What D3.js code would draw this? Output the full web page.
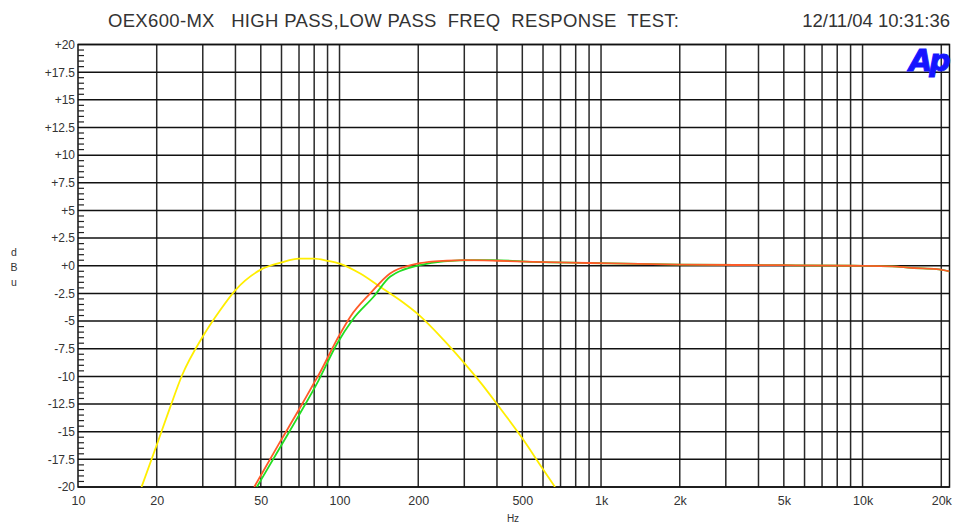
<!DOCTYPE html>
<html>
<head>
<meta charset="utf-8">
<script src="https://cdn.jsdelivr.net/npm/d3@7"></script>
<style>
  html, body { margin: 0; padding: 0; background: #fff; }
  svg { display: block; }
  text { font-family: "Liberation Sans", Arial, sans-serif; fill: #333; }
</style>
</head>
<body>
<svg id="chart" width="953" height="524"></svg>
<script>
// Frequency response sweep (Hz vs dBu)
const titleText = "OEX600-MX   HIGH PASS,LOW PASS  FREQ  RESPONSE  TEST:";
const stampText = "12/11/04 10:31:36";

const freqDomain = [10, 21500];
const dbDomain = [-20, 20];

const yTicks = [20, 17.5, 15, 12.5, 10, 7.5, 5, 2.5, 0, -2.5, -5, -7.5, -10, -12.5, -15, -17.5, -20];
const yTickLabels = ["+20", "+17.5", "+15", "+12.5", "+10", "+7.5", "+5", "+2.5", "+0",
  "-2.5", "-5", "-7.5", "-10", "-12.5", "-15", "-17.5", "-20"];
const xTicks = [10, 20, 50, 100, 200, 500, 1000, 2000, 5000, 10000, 20000];
const xTickLabels = ["10", "20", "50", "100", "200", "500", "1k", "2k", "5k", "10k", "20k"];
const xGrid = [20, 30, 40, 50, 60, 70, 80, 90, 100, 200, 300, 400, 500, 600, 700, 800, 900,
  1000, 2000, 3000, 4000, 5000, 6000, 7000, 8000, 9000, 10000, 20000];

// Low-pass / band response (yellow)
const lowFreq = [17.5, 20, 22.5, 25, 30, 35, 40, 50, 60, 70, 80, 90, 100, 120, 143, 170, 200, 250, 300, 350, 400, 500, 600, 667];
const lowDb =   [-20, -16.2, -12.8, -9.9, -6.4, -4.0, -2.2, -0.35, 0.3, 0.65, 0.65, 0.45, 0.2, -0.7, -1.9, -3.1, -4.4, -6.7, -8.8, -10.7, -12.5, -15.6, -18.4, -20];

// High-pass channel A (orange)
const hpaFreq = [47.2, 59.3, 70, 79, 84, 97.6, 110, 131, 156, 191, 220, 257, 300, 400, 550, 900, 2000, 5000, 9200, 13000, 15400, 19200, 21500];
const hpaDb =   [-20, -15.9, -13.0, -10.8, -9.7, -6.7, -4.6, -2.5, -0.7, 0.1, 0.35, 0.45, 0.5, 0.45, 0.35, 0.25, 0.1, 0.05, 0.0, -0.05, -0.2, -0.3, -0.5];

// High-pass channel B (green)
const hpbFreq = [48.3, 60, 70, 83, 97.6, 112, 135, 156, 203, 250, 330, 386, 550, 900, 2000, 5000, 9200, 13000, 15400, 19200, 21500];
const hpbDb =   [-20, -16.2, -13.5, -10.4, -7.1, -4.9, -2.8, -1.0, 0.05, 0.4, 0.5, 0.5, 0.35, 0.25, 0.1, 0.05, 0.0, -0.05, -0.2, -0.3, -0.5];

const svg = d3.select("#chart");
const plot = { left: 78, right: 949.5, top: 44.5, bottom: 487 };

const x = d3.scaleLog().domain(freqDomain).range([plot.left, plot.right]);
const y = d3.scaleLinear().domain(dbDomain).range([plot.bottom, plot.top]);

// Title line
svg.append("text")
  .attr("x", 108).attr("y", 27)
  .attr("font-size", 18.5)
  .attr("textLength", 571).attr("lengthAdjust", "spacing")
  .style("white-space", "pre")
  .attr("xml:space", "preserve")
  .text(titleText);
svg.append("text")
  .attr("x", 950).attr("y", 27)
  .attr("text-anchor", "end")
  .attr("font-size", 18.5)
  .text(stampText);

// Grid
const grid = svg.append("g");
grid.selectAll("line.v").data(xGrid).join("line")
  .attr("x1", d => x(d)).attr("x2", d => x(d))
  .attr("y1", plot.top).attr("y2", plot.bottom)
  .attr("stroke", "#2a2a2a").attr("stroke-width", 1.5);
grid.selectAll("line.h").data(yTicks).join("line")
  .attr("x1", plot.left).attr("x2", plot.right)
  .attr("y1", d => y(d)).attr("y2", d => y(d))
  .attr("stroke", "#111").attr("stroke-width", 1.5);
grid.append("rect")
  .attr("x", plot.left).attr("y", plot.top)
  .attr("width", plot.right - plot.left).attr("height", plot.bottom - plot.top)
  .attr("fill", "none").attr("stroke", "#111").attr("stroke-width", 1.5);

// Left axis: minor ticks every 0.5 dB
const minor = d3.range(-20, 20.01, 0.5).filter(v => Math.abs(v / 2.5 - Math.round(v / 2.5)) > 1e-6);
svg.append("g").selectAll("line").data(minor).join("line")
  .attr("x1", plot.left).attr("x2", plot.left + 6)
  .attr("y1", d => y(d)).attr("y2", d => y(d))
  .attr("stroke", "#222").attr("stroke-width", 1.2);

const yAxis = d3.axisLeft(y).tickValues(yTicks)
  .tickFormat((d, i) => yTickLabels[i]).tickSize(0).tickPadding(3);
svg.append("g").attr("transform", `translate(${plot.left},0)`).call(yAxis)
  .call(g => g.select(".domain").remove())
  .selectAll("text").attr("font-size", 12).attr("fill", "#333")
  .style("font-family", "'Liberation Sans', Arial, sans-serif");

const xAxis = d3.axisBottom(x).tickValues(xTicks)
  .tickFormat((d, i) => xTickLabels[i]).tickSize(0).tickPadding(9);
svg.append("g").attr("transform", `translate(0,${plot.bottom})`).call(xAxis)
  .call(g => g.select(".domain").remove())
  .selectAll("text").attr("font-size", 12.5).attr("fill", "#333")
  .style("font-family", "'Liberation Sans', Arial, sans-serif");

// Axis titles
["d", "B", "u"].forEach((c, i) => {
  svg.append("text").attr("x", 14).attr("y", 256 + i * 15)
    .attr("text-anchor", "middle").attr("font-size", 10.5).text(c);
});
svg.append("text").attr("x", 513).attr("y", 522)
  .attr("text-anchor", "middle").attr("font-size", 10).text("Hz");

// Curves
const line = d3.line()
  .x(d => x(d[0])).y(d => y(d[1]))
  .curve(d3.curveMonotoneX);
svg.append("clipPath").attr("id", "plotclip").append("rect")
  .attr("x", plot.left).attr("y", plot.top - 2)
  .attr("width", plot.right - plot.left).attr("height", plot.bottom - plot.top + 2);

const curves = svg.append("g").attr("clip-path", "url(#plotclip)");
curves.append("path").datum(d3.zip(lowFreq, lowDb))
  .attr("d", line).attr("fill", "none").attr("stroke", "#ffee00").attr("stroke-width", 1.8);
curves.append("path").datum(d3.zip(hpbFreq, hpbDb))
  .attr("d", line).attr("fill", "none").attr("stroke", "#22dd22").attr("stroke-width", 1.8);
curves.append("path").datum(d3.zip(hpaFreq, hpaDb))
  .attr("d", line).attr("fill", "none").attr("stroke", "#ff5a28").attr("stroke-width", 1.8);

// Analyzer logo
svg.append("text")
  .attr("x", 909).attr("y", 71)
  .attr("font-size", 30).attr("font-weight", "bold").attr("font-style", "italic")
  .attr("letter-spacing", -3)
  .style("font-family", "'DejaVu Sans', Arial, sans-serif")
  .style("fill", "#1515ff").style("stroke", "#1515ff").style("stroke-width", 1)
  .text("Ap");
</script>
</body>
</html>
